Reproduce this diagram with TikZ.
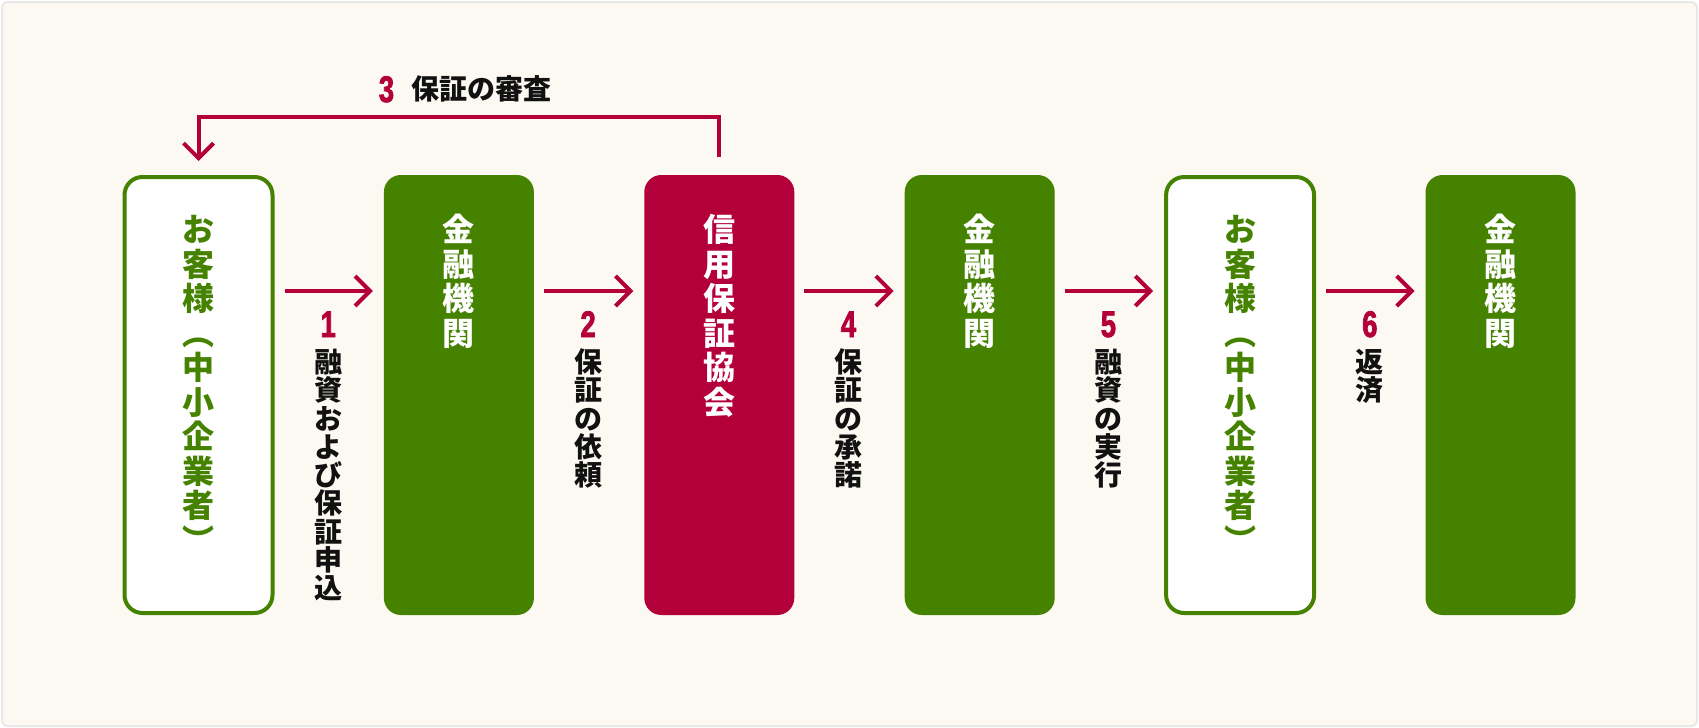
\documentclass[tikz,border=0pt]{standalone}
\usepackage{fontspec}
\setmainfont{Noto Sans CJK JP}
\newfontfamily\numfont[FakeStretch=0.74,FakeBold=2]{Liberation Sans Bold}
\usetikzlibrary{arrows.meta,calc}
\definecolor{bgc}{HTML}{FCF9F2}
\definecolor{bgline}{HTML}{E8E8E6}
\definecolor{grn}{HTML}{458200}
\definecolor{crim}{HTML}{B4003A}
\definecolor{ink}{HTML}{111111}
\begin{document}
\begin{tikzpicture}[x=0.5pt,y=-0.5pt,
  fillbox/.style={fill=#1, rounded corners=8.5pt, minimum width=75pt, minimum height=220pt, inner sep=0pt, outer sep=0pt},
  outbox/.style={draw=grn, fill=white, line width=2pt, rounded corners=9pt, minimum width=74pt, minimum height=218pt, inner sep=0pt, outer sep=1pt},
  boxtxt/.style={anchor=base, align=center, inner sep=0pt, font=\fontsize{16pt}{17.25pt}\selectfont\bfseries},
  labtxt/.style={anchor=base, align=center, inner sep=0pt, text=ink, font=\fontsize{14pt}{14.125pt}\selectfont\bfseries},
  numtxt/.style={anchor=base, inner sep=0pt, text=crim, font=\fontsize{18.5pt}{19pt}\numfont},
  arr/.style={draw=crim, line width=2pt, -{Straight Barb[length=7.5pt,width=15pt]}}
]
\useasboundingbox (0,0) rectangle (1699,728);
\path[draw=bgline, fill=bgc, line width=1pt, rounded corners=3pt] (2,2) rectangle (1697,726);

% boxes
\node[outbox] (b1) at (198.5,395) {};
\node[fillbox=grn] (b2) at (458.9,395) {};
\node[fillbox=crim] (b3) at (719.3,395) {};
\node[fillbox=grn] (b4) at (979.7,395) {};
\node[outbox] (b5) at (1240.1,395) {};
\node[fillbox=grn] (b6) at (1500.5,395) {};

% box texts (anchor = baseline of the last line)
\node[boxtxt, text=grn] (t1) at ($(b1.center)+(0,157.2)$) {お\\客\\様\\︵\\中\\小\\企\\業\\者\\︶};
\node[boxtxt, text=white] (t2) at ($(b2.center)+(0,-49.8)$) {金\\融\\機\\関};
\node[boxtxt, text=white] (t3) at ($(b3.center)+(0,19.2)$) {信\\用\\保\\証\\協\\会};
\node[boxtxt, text=white] (t4) at ($(b4.center)+(0,-49.8)$) {金\\融\\機\\関};
\node[boxtxt, text=grn] (t5) at ($(b5.center)+(0,157.2)$) {お\\客\\様\\︵\\中\\小\\企\\業\\者\\︶};
\node[boxtxt, text=white] (t6) at ($(b6.center)+(0,-49.8)$) {金\\融\\機\\関};

% arrows between boxes
\draw[arr] ($(b1.east)+(10,-104)$) -- ($(b2.west)+(-11,-104)$);
\draw[arr] ($(b2.east)+(10,-104)$) -- ($(b3.west)+(-11,-104)$);
\draw[arr] ($(b3.east)+(10,-104)$) -- ($(b4.west)+(-11,-104)$);
\draw[arr] ($(b4.east)+(10,-104)$) -- ($(b5.west)+(-11,-104)$);
\draw[arr] ($(b5.east)+(10,-104)$) -- ($(b6.west)+(-11,-104)$);

% midpoints
\coordinate (m1) at ($(b1.east)!0.5!(b2.west)$);
\coordinate (m2) at ($(b2.east)!0.5!(b3.west)$);
\coordinate (m4) at ($(b3.east)!0.5!(b4.west)$);
\coordinate (m5) at ($(b4.east)!0.5!(b5.west)$);
\coordinate (m6) at ($(b5.east)!0.5!(b6.west)$);

% labels (anchor = baseline of the last line)
\node[numtxt] (n1) at ($(m1)+(-1,-58)$) {1};
\node[labtxt] (l1) at ($(m1)+(-1,203.6)$) {融\\資\\お\\よ\\び\\保\\証\\申\\込};
\node[numtxt] (n2) at ($(m2)+(-1,-58)$) {2};
\node[labtxt] (l2) at ($(m2)+(-1,90.6)$) {保\\証\\の\\依\\頼};
\node[numtxt] (n4) at ($(m4)+(-1,-58)$) {4};
\node[labtxt] (l4) at ($(m4)+(-1,90.6)$) {保\\証\\の\\承\\諾};
\node[numtxt] (n5) at ($(m5)+(-1,-58)$) {5};
\node[labtxt] (l5) at ($(m5)+(-1,90.6)$) {融\\資\\の\\実\\行};
\node[numtxt] (n6) at ($(m6)+(-1,-58)$) {6};
\node[labtxt] (l6) at ($(m6)+(-1,5.85)$) {返\\済};

% review arrow
\draw[arr] ($(b3.north)+(0,-18)$) -- ++(0,-40) -| ($(b1.north)+(0,-14)$);
\node[numtxt] (n3) at (386.5,102) {3};
\node[labtxt, anchor=base west] (l3) at (411,99.6) {保証の審査};
\end{tikzpicture}
\end{document}
